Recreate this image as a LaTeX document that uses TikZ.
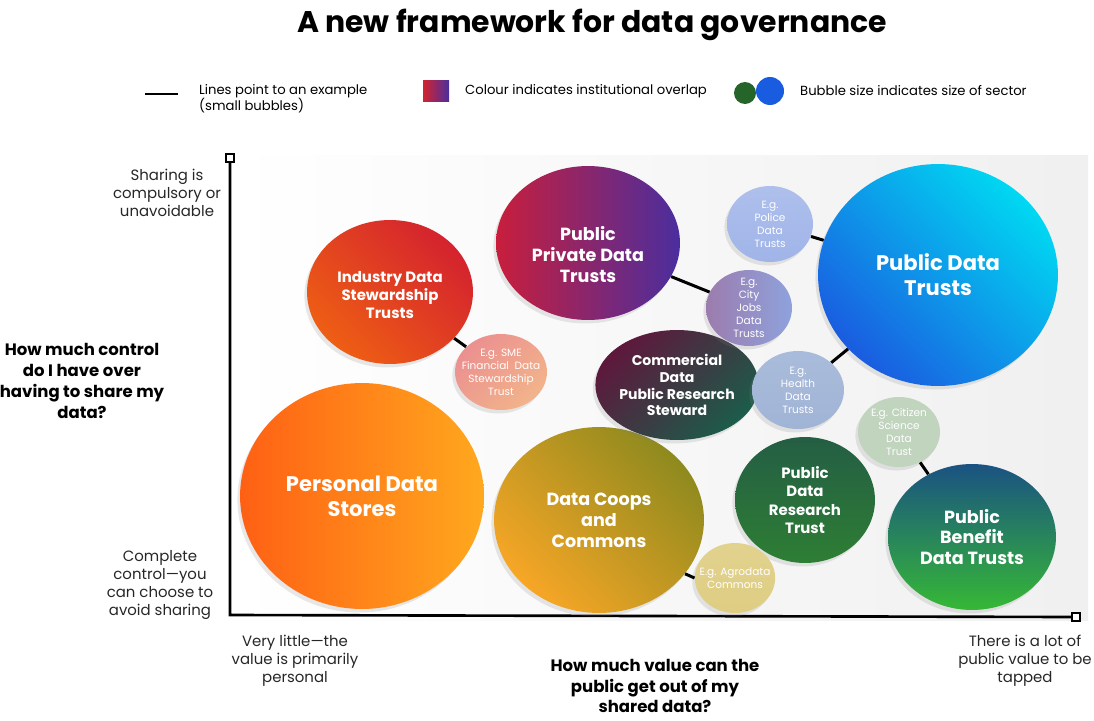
\documentclass[tikz,border=0pt]{standalone}
\usepackage{fontspec}
\setmainfont{Poppins}
\usepackage{tikz}
\usetikzlibrary{shapes.geometric,shadows}

\definecolor{indusA}{HTML}{D4232E}
\definecolor{indusB}{HTML}{EE5E14}
\definecolor{ppA}{HTML}{C81E3C}
\definecolor{ppB}{HTML}{4A2E9E}
\definecolor{pubA}{HTML}{00D8F2}
\definecolor{pubB}{HTML}{1A5CE0}
\definecolor{pdsA}{HTML}{FF6014}
\definecolor{pdsB}{HTML}{FFA81E}
\definecolor{coopA}{HTML}{8E8A1E}
\definecolor{coopB}{HTML}{F7A626}
\definecolor{commA}{HTML}{5E183C}
\definecolor{commB}{HTML}{1C5C4A}
\definecolor{resA}{HTML}{245E44}
\definecolor{resB}{HTML}{2E7E34}
\definecolor{benA}{HTML}{1A5282}
\definecolor{benB}{HTML}{36B836}
\definecolor{policeC}{HTML}{A0B4E8}
\definecolor{cityA}{HTML}{9C7CAE}
\definecolor{cityB}{HTML}{8EA2DC}
\definecolor{smeA}{HTML}{EB9090}
\definecolor{smeB}{HTML}{F2B48A}
\definecolor{healthC}{HTML}{A0B4D6}
\definecolor{citizenC}{HTML}{C0D4BE}
\definecolor{agroC}{HTML}{DECD82}

\begin{document}
\begin{tikzpicture}[x=0.02cm,y=-0.02cm,
		bubble/.style 2 args={ellipse, inner sep=0pt, minimum width=#1*0.04cm, minimum height=#2*0.04cm,
			align=center, text=white, drop shadow={opacity=0.18, shadow xshift=-1.5pt, shadow yshift=-2pt}},
		example/.style={inner sep=-4pt, font=\fontsize{6}{7.4}\selectfont},
		link/.style={line width=1.7pt},
		axisend/.style={draw, fill=white, line width=1pt, inner sep=0pt, minimum size=4.5pt},
		axistext/.style={align=center, text=black!85, font=\fontsize{8.5}{10.2}\selectfont},
		axistitle/.style={align=center, font=\bfseries\fontsize{9.4}{11.8}\selectfont}]

	\useasboundingbox (0,0) rectangle (1094,720);
	\fill [left color=white, right color=black!6] (232,155) rectangle (1088,620);

	\node (title) at (592,25) {\bfseries\fontsize{17}{20}\selectfont A new framework for data governance};

	\coordinate (lineA) at (145,94);
	\coordinate (lineB) at (178,94);
	\draw [link] (lineA) -- (lineB);
	\node [anchor=west, align=left, font=\fontsize{7.5}{9}\selectfont] (keyline) at (193,99) {Lines point to an example\\(small bubbles)};
	\node [minimum width=0.52cm, minimum height=0.44cm, inner sep=0pt, left color=indusA, right color=ppB] (keycol) at (436,91) {};
	\node [anchor=west, font=\fontsize{7.5}{9}\selectfont] (keycoltext) at (459,91) {Colour indicates institutional overlap};
	\node [circle, fill=resB!80!black, minimum size=0.44cm, inner sep=0pt] (keysmall) at (745,93) {};
	\node [circle, fill=pubB, minimum size=0.56cm, inner sep=0pt] (keybig) at (770,91) {};
	\node [anchor=west, font=\fontsize{7.5}{9}\selectfont] (keysize) at (794,91) {Bubble size indicates size of sector};

	\coordinate (origin) at (230,615);
	\node [axisend] (ytop) at (230,158) {};
	\node [axisend] (xend) at (1076,617) {};
	\draw [line width=1.5pt] (ytop) -- (origin) -- (xend);

	\node [axistext] (ymax) at (167,193) {Sharing is\\compulsory or\\unavoidable};
	\node [axistitle] (ytitle) at (82,381) {How much control\\do I have over\\having to share my\\data?};
	\node [axistext] (ymin) at (160,585) {Complete\\control---you\\can choose to\\avoid sharing};
	\node [axistext] (xmin) at (295,661) {Very little---the\\value is primarily\\personal};
	\node [axistitle] (xtitle) at (655,686) {How much value can the\\public get out of my\\shared data?};
	\node [axistext] (xmax) at (1025,661) {There is a lot of\\public value to be\\tapped};

	\node [bubble={83}{72}, top color=indusA, bottom color=indusB, shading angle=-45, font=\bfseries\fontsize{8.5}{10.2}\selectfont] (indus) at (390,292) {\rule{0pt}{10pt}Industry Data\\Stewardship\\Trusts};
	\node [bubble={92}{77}, left color=ppA, right color=ppB, font=\bfseries\fontsize{10}{11.9}\selectfont] (pubpriv) at (588,243) {\rule{0pt}{21pt}Public\\Private Data\\Trusts};
	\node [bubble={120}{111}, top color=pubA, bottom color=pubB, shading angle=-45, font=\bfseries\fontsize{12}{14.2}\selectfont] (pubdata) at (938,275) {Public Data\\Trusts};
	\node [bubble={122}{113}, left color=pdsA, right color=pdsB, font=\bfseries\fontsize{12}{14.2}\selectfont] (pds) at (362,496) {Personal Data\\Stores};
	\node [bubble={105}{93}, top color=coopA, bottom color=coopB, shading angle=-45, font=\bfseries\fontsize{10}{11.9}\selectfont] (coops) at (599,520) {Data Coops\\and\\Commons};
	\node [bubble={60}{55}, top color=commA, bottom color=commB, shading angle=45, font=\bfseries\fontsize{8}{9.6}\selectfont] (comm) at (677,385) {Commercial\\Data\\Public Research\\Steward};
	\node [bubble={70}{63}, top color=resA, bottom color=resB, font=\bfseries\fontsize{8.5}{10.5}\selectfont] (research) at (805,500) {Public\\Data\\Research\\Trust};
	\node [bubble={84}{73}, top color=benA, bottom color=benB, font=\bfseries\fontsize{10}{11.9}\selectfont] (benefit) at (972,537) {Public\\Benefit\\Data Trusts};

	\node [bubble={43}{38}, example, top color=policeC!85!white, bottom color=policeC] (police) at (770,224) {E.g.\\Police\\Data\\Trusts};
	\node [bubble={43}{38}, example, left color=cityA, right color=cityB] (city) at (749,308) {E.g.\\City\\Jobs\\Data\\Trusts};
	\node [bubble={46}{38}, example, top color=smeA, bottom color=smeB, shading angle=45] (sme) at (501,372) {E.g. SME\\Financial\ \ Data\\Stewardship\\Trust};
	\node [bubble={46}{39}, example, top color=healthC!90!white, bottom color=healthC] (health) at (798,390) {E.g.\\Health\\Data\\Trusts};
	\node [bubble={41}{35}, example, fill=citizenC] (citizen) at (899,432) {E.g. Citizen\\Science\\Data\\Trust};
	\node [bubble={38}{35}, example, top color=agroC!90!white, bottom color=agroC] (agro) at (735,578) {E.g. Agrodata\\Commons};

	\draw [link] (indus) -- (sme);
	\draw [link] (pubpriv) -- (city);
	\draw [link] (police) -- (pubdata);
	\draw [link] (pubdata) -- (health);
	\draw [link] (citizen) -- (benefit);
	\draw [link] (coops.-32) -- (agro.west);

\end{tikzpicture}
\end{document}
